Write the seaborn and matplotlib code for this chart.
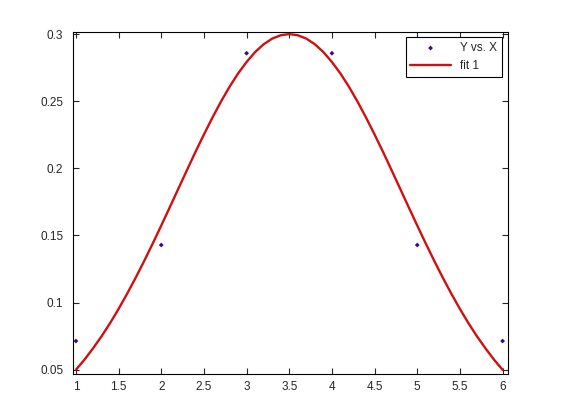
import numpy as np
import pandas as pd
import seaborn as sns
import matplotlib
matplotlib.use("Agg")
import matplotlib.pyplot as plt

# Data points (Y vs. X)
x_pts = [1, 2, 3, 4, 5, 6]
y_pts = [0.0714, 0.1429, 0.2857, 0.2857, 0.1429, 0.0714]

# Fitted curve values
x_fit = [1.0, 1.1, 1.2, 1.3, 1.4, 1.5, 1.6, 1.7, 1.8, 1.9,
         2.0, 2.1, 2.2, 2.3, 2.4, 2.5, 2.6, 2.7, 2.8, 2.9,
         3.0, 3.1, 3.2, 3.3, 3.4, 3.5, 3.6, 3.7, 3.8, 3.9,
         4.0, 4.1, 4.2, 4.3, 4.4, 4.5, 4.6, 4.7, 4.8, 4.9,
         5.0, 5.1, 5.2, 5.3, 5.4, 5.5, 5.6, 5.7, 5.8, 5.9, 6.0]
y_fit = [0.0500, 0.0575, 0.0659, 0.0749, 0.0847, 0.0953, 0.1066, 0.1185, 0.1310, 0.1440,
         0.1574, 0.1710, 0.1848, 0.1985, 0.2121, 0.2252, 0.2378, 0.2497, 0.2607, 0.2706,
         0.2792, 0.2866, 0.2924, 0.2966, 0.2991, 0.3000, 0.2991, 0.2966, 0.2924, 0.2866,
         0.2792, 0.2706, 0.2607, 0.2497, 0.2378, 0.2252, 0.2121, 0.1985, 0.1848, 0.1710,
         0.1574, 0.1440, 0.1310, 0.1185, 0.1066, 0.0953, 0.0847, 0.0749, 0.0659, 0.0575, 0.0500]

x_ticks = [1, 1.5, 2, 2.5, 3, 3.5, 4, 4.5, 5, 5.5, 6]
x_ticklabels = ["1", "1.5", "2", "2.5", "3", "3.5", "4", "4.5", "5", "5.5", "6"]
y_ticks = [0.05, 0.1, 0.15, 0.2, 0.25, 0.3]
y_ticklabels = ["0.05", "0.1", "0.15", "0.2", "0.25", "0.3"]

sns.set_style("white")
plt.rcParams['font.family'] = ['Liberation Sans', 'DejaVu Sans']

fig = plt.figure(figsize=(5.61, 4.2), dpi=100)
ax = fig.add_axes([0.13, 0.11, 0.775, 0.815])

pts = pd.DataFrame({"x": x_pts, "y": y_pts})
fit = pd.DataFrame({"x": x_fit, "y": y_fit})

sns.scatterplot(data=pts, x="x", y="y", ax=ax, color="#3a0a8a", marker="D", s=6,
                edgecolor="none", label="Y vs. X", zorder=3)
sns.lineplot(data=fit, x="x", y="y", ax=ax, color="#d01010", linewidth=1.7,
             label="fit 1", zorder=2)

ax.set_xlim(0.965, 6.06)
ax.set_ylim(0.047, 0.3019)
ax.set_xticks(x_ticks)
ax.set_xticklabels(x_ticklabels)
ax.set_yticks(y_ticks)
ax.set_yticklabels(y_ticklabels)
ax.set_xlabel("")
ax.set_ylabel("")
ax.tick_params(direction="in", length=4, width=0.8, labelsize=8.5,
               top=True, right=True, bottom=True, left=True)
ax.tick_params(axis="y", pad=7)
ax.tick_params(axis="x", pad=5)
for sp in ax.spines.values():
    sp.set_visible(True)
    sp.set_color("black")
    sp.set_linewidth(0.8)

leg = ax.legend(loc="upper right", fontsize=8.5, frameon=True, fancybox=False,
                edgecolor="black", framealpha=1, borderaxespad=0.5,
                handlelength=3.4, markerscale=1.0)
leg.get_frame().set_linewidth(0.8)

fig.savefig("out.png", dpi=100, facecolor="white")
